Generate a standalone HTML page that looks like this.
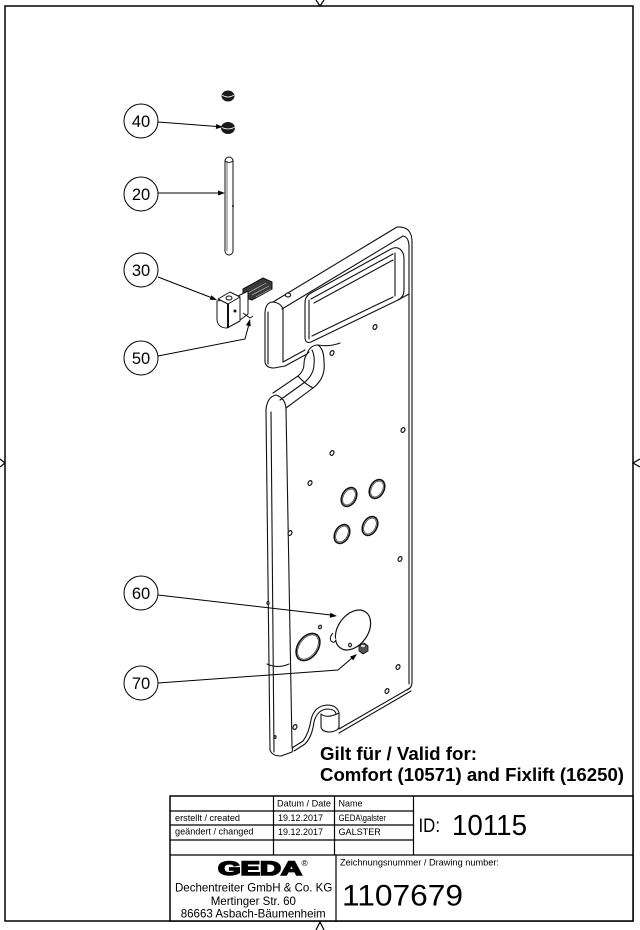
<!DOCTYPE html>
<html>
<head>
<meta charset="utf-8">
<style>
html,body{margin:0;padding:0;background:#fff;}
svg{display:block;}
text{font-family:"Liberation Sans",Arial,sans-serif;fill:#000;}
</style>
</head>
<body>
<svg width="640" height="930" viewBox="0 0 640 930" xmlns="http://www.w3.org/2000/svg">
<rect width="640" height="930" fill="#fff"/>

<!-- Frame -->
<rect x="5" y="6" width="628" height="915" fill="none" stroke="#000" stroke-width="1.5"/>
<!-- centering marks -->
<path d="M316,0 L320,6 L324,0" fill="none" stroke="#000" stroke-width="1.2"/>
<path d="M0,459 L5,463 L0,467" fill="none" stroke="#000" stroke-width="1.2"/>
<path d="M640,459 L633,463 L640,467" fill="none" stroke="#000" stroke-width="1.2"/>
<path d="M316,930 L320,922 L324,930" fill="none" stroke="#000" stroke-width="1.2"/>

<!-- ============ BOARD ============ -->
<g fill="none" stroke="#111" stroke-width="1.1" stroke-linejoin="round" stroke-linecap="round">
  <!-- top of handle -->
  <path d="M273,302 L397,227 Q412,226 412,242 L412,682 Q412,688 407,690"/>
  <path d="M282,309 L403,236 Q409,237 409,247 L409,684"/>
  <!-- handle left cap -->
  <path d="M265,312 Q266,302 273,302 Q281,303 283,309 L283,362"/>
  <path d="M265,312 L265,362 Q266,368 274,368 L285,366 L307,354"/>
  <path d="M268,312 L268,364"/>
  <path d="M283,362 L305,350"/>
  <!-- window -->
  <path d="M305,337 L305,303 Q305,296 311,293 L391,249 Q397,246 401,250 Q404,253 404,259 L404,290 Q404,297 398,300 L311,342 Q305,344 305,337"/>
  <path d="M309,300 L309,339"/>
  <path d="M311,299 L393,254"/>
  <path d="M314,303 L393,260"/>
  <path d="M395,253 L395,296"/>
  <path d="M312,336 L393,297"/>
  <path d="M398,300 L409,294"/>
  <!-- fillet / S-curve -->
  <path d="M307,354 Q310,345 318,345 Q324,349 324,362 Q326,378 313,388 L286,408"/>
  <path d="M309,352 Q304,356 304,364 Q304,371 298,376 L273,393"/>
  <path d="M312,350 Q315,356 314,364 Q314,374 305,382 L280,400"/>
  <path d="M298,376 Q305,384 313,388"/>
  <path d="M318,345 Q330,347 340,343"/>
  <!-- lower-left tube -->
  <path d="M266,410 Q267,397 276,395 Q285,398 286,408"/>
  <path d="M266,410 L270,750 Q272,756 281,756 L292,752 Q293,749 292,746 L286,408"/>
  <path d="M271,412 L274,752"/>
  <path d="M267,664 Q278,669 289,664"/>
  <!-- bottom with notch -->
  <path d="M292,748 L303,741 Q309,733 311,720 Q314,706 327,705 Q337,705 339,713 L339,729 L410,688"/>
  <path d="M294,751 L305,744 Q312,737 314,722 Q317,710 327,709 Q335,709 336,714"/>
  <path d="M339,733 L411,691"/>
  <path d="M321,714 L321,727 Q322,732 330,732 Q338,731 339,727"/>
  <path d="M321,714 Q327,719 339,713"/>
</g>

<!-- small holes -->
<g fill="#fff" stroke="#222" stroke-width="1.3">
  <ellipse cx="288" cy="295" rx="2.6" ry="2" />
  <ellipse cx="375" cy="327" rx="1.8" ry="2.5" transform="rotate(25 375 327)"/>
  <ellipse cx="332" cy="353" rx="1.8" ry="2.5" transform="rotate(25 332 353)"/>
  <ellipse cx="403" cy="430" rx="1.8" ry="2.5" transform="rotate(25 403 430)"/>
  <ellipse cx="332" cy="453" rx="1.8" ry="2.5" transform="rotate(25 332 453)"/>
  <ellipse cx="310" cy="483" rx="1.8" ry="2.5" transform="rotate(25 310 483)"/>
  <ellipse cx="290" cy="533" rx="1.8" ry="2.5" transform="rotate(25 290 533)"/>
  <ellipse cx="400" cy="559" rx="1.8" ry="2.5" transform="rotate(25 400 559)"/>
  <ellipse cx="320" cy="627" rx="1.4" ry="1.8" transform="rotate(25 320 627)"/>
  <ellipse cx="350" cy="645" rx="1.4" ry="1.8" transform="rotate(25 350 645)"/>
  <ellipse cx="398" cy="667" rx="1.8" ry="2.5" transform="rotate(25 398 667)"/>
  <ellipse cx="387" cy="691" rx="1.8" ry="2.5" transform="rotate(25 387 691)"/>
  <ellipse cx="295" cy="727" rx="1.8" ry="2.5" transform="rotate(25 295 727)"/>
  <ellipse cx="275" cy="737" rx="1" ry="1.4"/>
  <ellipse cx="268" cy="603" rx="1" ry="1.4"/>
</g>

<!-- large holes -->
<g fill="none" stroke="#111">
  <ellipse cx="349" cy="497" rx="7" ry="10" transform="rotate(28 349 497)" stroke-width="1.6"/>
  <ellipse cx="349" cy="497" rx="5.5" ry="8.5" transform="rotate(28 349 497)" stroke-width="0.6"/>
  <ellipse cx="377" cy="489" rx="7" ry="10" transform="rotate(28 377 489)" stroke-width="1.6"/>
  <ellipse cx="377" cy="489" rx="5.5" ry="8.5" transform="rotate(28 377 489)" stroke-width="0.6"/>
  <ellipse cx="342" cy="534" rx="7" ry="10" transform="rotate(28 342 534)" stroke-width="1.6"/>
  <ellipse cx="342" cy="534" rx="5.5" ry="8.5" transform="rotate(28 342 534)" stroke-width="0.6"/>
  <ellipse cx="370" cy="526" rx="7" ry="10" transform="rotate(28 370 526)" stroke-width="1.6"/>
  <ellipse cx="370" cy="526" rx="5.5" ry="8.5" transform="rotate(28 370 526)" stroke-width="0.6"/>
  <ellipse cx="308" cy="647" rx="10" ry="15" transform="rotate(35 308 647)" stroke-width="1.6"/>
  <ellipse cx="308" cy="647" rx="8.5" ry="13.5" transform="rotate(35 308 647)" stroke-width="0.6"/>
</g>

<!-- part 60 disc -->
<ellipse cx="353" cy="630" rx="15" ry="22" transform="rotate(35 353 630)" fill="#fff" stroke="#111" stroke-width="1.2"/>
<path d="M333,633 Q329,637 331,641 Q334,644 336,640" fill="#fff" stroke="#111" stroke-width="1"/>
<ellipse cx="350" cy="645" rx="1.4" ry="1.8" fill="#fff" stroke="#222" stroke-width="1.2"/>
<!-- part 70 screw -->
<path d="M359,646 L364,643 L368,646 L368,651 L363,654 L359,651 Z" fill="#555" stroke="#111" stroke-width="0.8"/>
<ellipse cx="363" cy="646" rx="2.5" ry="1.6" fill="#ddd" stroke="#111" stroke-width="0.5"/>

<!-- part 40 nuts -->
<ellipse cx="228" cy="96" rx="6.5" ry="5.5" fill="#1a1a1a"/>
<path d="M222,95 Q228,99 234,95" stroke="#fff" stroke-width="0.8" fill="none"/>
<ellipse cx="228" cy="128" rx="7" ry="6" fill="#1a1a1a"/>
<path d="M221,127 Q228,131 235,127" stroke="#fff" stroke-width="0.8" fill="none"/>

<!-- part 20 rod -->
<rect x="225" y="157" width="8" height="98" rx="4" fill="#fff" stroke="#111" stroke-width="1"/>
<path d="M227,161 L227,251" stroke="#111" stroke-width="0.6" fill="none"/>
<path d="M225,161 Q229,164 233,161" stroke="#111" stroke-width="0.8" fill="none"/>
<circle cx="233" cy="206" r="1" fill="#111"/>

<!-- part 30 bracket -->
<g stroke="#111" stroke-width="1" stroke-linejoin="round">
  <polygon points="243,289 263,278 272,282 272,289 252,300 243,297" fill="#3a3a3a"/>
  <path d="M248,293 L266,283 M252,295 L269,286 M256,297 L271,289" stroke="#bbb" stroke-width="0.7" fill="none"/>
  <path d="M238,296 L248,291 L248,314 L240,320 Z" fill="#fff"/>
  <path d="M217,301 L217,320 Q218,328 227,328 L240,321 L240,297 Z" fill="#fff"/>
  <polygon points="218,299 230,292 240,297 228,304" fill="#fff"/>
  <ellipse cx="229" cy="298" rx="3" ry="2" fill="#fff"/>
  <path d="M228,304 L228,328" stroke-width="2" fill="none"/>
  <circle cx="235" cy="311" r="1" fill="#111"/>
  <path d="M243,313 L250,318 L253,316" fill="none"/>
</g>

<!-- ============ LEADERS ============ -->
<g stroke="#000" stroke-width="1" fill="none">
  <path d="M158,122 L217,126.5"/>
  <path d="M158,193 L219,193"/>
  <path d="M158,277 L211,297.5"/>
  <path d="M158,356 L245,339 L248.5,326"/>
  <path d="M158,595 L331,615"/>
  <path d="M158,683 L338,670 L352,658"/>
</g>
<g fill="#000">
  <polygon points="223,127 215.8,129 216.2,124"/>
  <polygon points="225,193 218,190.5 218,195.5"/>
  <polygon points="217,300 209.6,299.8 211.4,295.2"/>
  <polygon points="250,319 250.7,326.4 245.9,325.2"/>
  <polygon points="337,616 329.7,617.7 330.3,612.7"/>
  <polygon points="357,654 353.2,660.4 350,656.6"/>
</g>

<!-- balloons -->
<g fill="#fff" stroke="#000" stroke-width="1">
  <circle cx="141" cy="121" r="17"/>
  <circle cx="141" cy="194" r="17"/>
  <circle cx="141" cy="270" r="17"/>
  <circle cx="141" cy="358" r="17"/>
  <circle cx="141" cy="593" r="17"/>
  <circle cx="141" cy="683" r="17"/>
</g>
<g font-size="16.5" text-anchor="middle">
  <text x="141" y="127">40</text>
  <text x="141" y="200">20</text>
  <text x="141" y="276">30</text>
  <text x="141" y="364">50</text>
  <text x="141" y="599">60</text>
  <text x="141" y="689">70</text>
</g>

<!-- Valid for -->
<text x="320" y="760" font-size="18" font-weight="bold" textLength="157" lengthAdjust="spacingAndGlyphs">Gilt für / Valid for:</text>
<text x="320" y="781" font-size="18" font-weight="bold" textLength="304" lengthAdjust="spacingAndGlyphs">Comfort (10571) and Fixlift (16250)</text>

<!-- ============ TITLE BLOCK ============ -->
<rect x="170" y="796" width="463" height="125" fill="#fff" stroke="#000" stroke-width="1.5"/>
<g stroke="#000" stroke-width="1.2">
  <line x1="170" y1="811" x2="413" y2="811"/>
  <line x1="170" y1="825" x2="413" y2="825"/>
  <line x1="170" y1="840" x2="413" y2="840"/>
  <line x1="170" y1="855" x2="633" y2="855"/>
  <line x1="273.5" y1="796" x2="273.5" y2="855"/>
  <line x1="334.5" y1="796" x2="334.5" y2="855"/>
  <line x1="413.5" y1="796" x2="413.5" y2="855"/>
  <line x1="336" y1="855" x2="336" y2="921"/>
</g>
<g font-size="9.3">
  <text x="277" y="806.5" textLength="54" lengthAdjust="spacingAndGlyphs">Datum / Date</text>
  <text x="338.5" y="806.5" textLength="24" lengthAdjust="spacingAndGlyphs">Name</text>
  <text x="175" y="821" textLength="65" lengthAdjust="spacingAndGlyphs">erstellt / created</text>
  <text x="175" y="834.5" textLength="78.5" lengthAdjust="spacingAndGlyphs">geändert / changed</text>
  <text x="278" y="821" textLength="45" lengthAdjust="spacingAndGlyphs">19.12.2017</text>
  <text x="278" y="835" textLength="45" lengthAdjust="spacingAndGlyphs">19.12.2017</text>
  <text x="338.5" y="821" textLength="47.5" lengthAdjust="spacingAndGlyphs">GEDA\galster</text>
  <text x="338.5" y="835" textLength="42.3" lengthAdjust="spacingAndGlyphs">GALSTER</text>
</g>
<text x="418.5" y="832" font-size="19.5" textLength="21.5" lengthAdjust="spacingAndGlyphs">ID:</text>
<text x="452" y="835" font-size="28.5" textLength="75" lengthAdjust="spacingAndGlyphs">10115</text>
<text x="340" y="865.5" font-size="8.8" textLength="159" lengthAdjust="spacingAndGlyphs">Zeichnungsnummer / Drawing number:</text>
<text x="342" y="905.5" font-size="30" textLength="121" lengthAdjust="spacingAndGlyphs">1107679</text>

<!-- GEDA logo -->
<text x="218" y="875" font-size="19.5" font-weight="bold" stroke="#000" stroke-width="1.6" textLength="84" lengthAdjust="spacingAndGlyphs">GEDA</text>
<text x="301.5" y="866" font-size="8.5">®</text>
<g font-size="12">
  <text x="175" y="891.5" textLength="157.3" lengthAdjust="spacingAndGlyphs">Dechentreiter GmbH &amp; Co. KG</text>
  <text x="210.7" y="905" textLength="85.3" lengthAdjust="spacingAndGlyphs">Mertinger Str. 60</text>
  <text x="180.7" y="917.7" textLength="145" lengthAdjust="spacingAndGlyphs">86663 Asbach-Bäumenheim</text>
</g>
</svg>
</body>
</html>
